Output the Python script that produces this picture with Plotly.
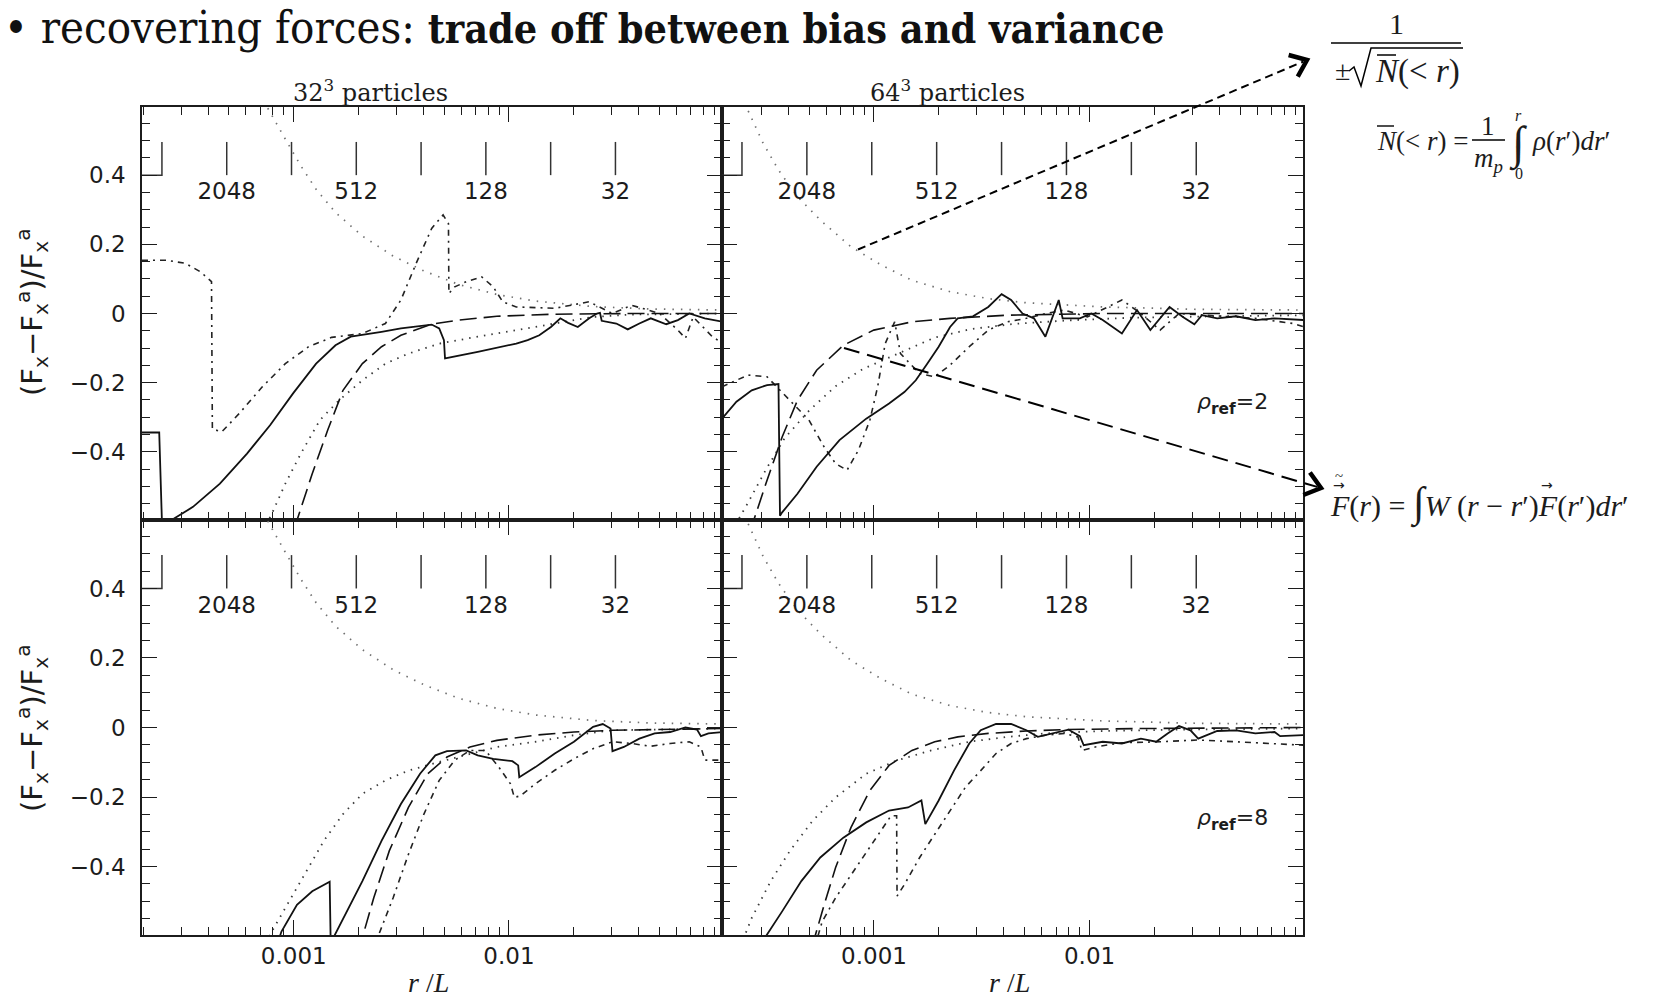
import math
import plotly.graph_objects as go

W, H = 1672, 1000
X_RANGE = [-3.705, -1.01]      # log10(r/L)
Y_RANGE = [-0.597, 0.597]
INK = "#1c1c1c"
SANS = "DejaVu Sans"
SERIF = "Liberation Serif"

# ---------------- curves: log10(r/L) and (Fx - Fx^a)/Fx^a ----------------
# 32^3 particles, rho_ref = 2
tl_solid_logr = [-3.705, -3.625, -3.611, -3.575, -3.468, -3.343, -3.217, -3.110, -3.003, -2.896,
                 -2.806, -2.735, -2.592, -2.502, -2.359, -2.324, -2.302, -2.297, -2.145, -1.966,
                 -1.913, -1.859, -1.805, -1.761, -1.725, -1.680, -1.627, -1.591, -1.577, -1.569,
                 -1.501, -1.448, -1.394, -1.341, -1.269, -1.215, -1.162, -1.135, -1.090, -1.005]
tl_solid_err = [-0.344, -0.344, -0.630, -0.600, -0.559, -0.492, -0.405, -0.323, -0.231, -0.145,
                -0.092, -0.067, -0.053, -0.043, -0.032, -0.043, -0.077, -0.130, -0.111, -0.087,
                -0.077, -0.063, -0.039, -0.014, -0.027, -0.039, -0.014, 0.000, 0.002, -0.021,
                -0.029, -0.046, -0.029, -0.014, -0.031, -0.019, 0.000, -0.005, -0.014, -0.024]
tl_long_logr = [-2.995, -2.986, -2.914, -2.842, -2.771, -2.681, -2.592, -2.502, -2.359, -2.234,
                -2.056, -1.787, -1.430, -1.005]
tl_long_err = [-0.620, -0.600, -0.463, -0.337, -0.222, -0.145, -0.096, -0.063, -0.031, -0.019,
               -0.008, -0.002, 0.000, 0.000]
tl_dashdot_logr = [-3.705, -3.593, -3.503, -3.432, -3.382, -3.378, -3.334, -3.253, -3.146, -3.039,
                   -2.931, -2.824, -2.681, -2.574, -2.502, -2.431, -2.359, -2.306, -2.281, -2.279,
                   -2.252, -2.198, -2.127, -2.073, -2.029, -1.966, -1.787, -1.627, -1.520, -1.430,
                   -1.300, -1.215, -1.180, -1.144, -1.055, -1.005]
tl_dashdot_err = [0.154, 0.154, 0.145, 0.120, 0.092, -0.334, -0.342, -0.289, -0.212, -0.145,
                  -0.096, -0.069, -0.058, -0.029, 0.039, 0.145, 0.246, 0.285, 0.260, 0.058,
                  0.077, 0.092, 0.106, 0.077, 0.034, 0.019, 0.015, 0.034, 0.000, 0.024,
                  0.000, -0.048, -0.072, -0.010, -0.067, -0.087]
tl_dotted_logr = [-3.160, -3.101, -3.039, -2.967, -2.878, -2.788, -2.681, -2.574, -2.467, -2.324,
                  -2.145, -1.966, -1.787, -1.609, -1.430, -1.005]
tl_dotted_err = [-0.650, -0.578, -0.492, -0.405, -0.308, -0.250, -0.193, -0.145, -0.116, -0.087,
                 -0.067, -0.048, -0.029, -0.010, -0.003, 0.000]

# 64^3 particles, rho_ref = 2
tr_solid_logr = [-3.705, -3.638, -3.567, -3.496, -3.443, -3.436, -3.426, -3.355, -3.266, -3.160,
                 -3.036, -2.930, -2.859, -2.806, -2.753, -2.700, -2.647, -2.612, -2.541, -2.470,
                 -2.408, -2.364, -2.311, -2.258, -2.205, -2.143, -2.125, -2.045, -1.992, -1.939,
                 -1.850, -1.780, -1.718, -1.629, -1.567, -1.514, -1.479, -1.408, -1.320, -1.231,
                 -1.142, -1.005]
tr_solid_err = [-0.304, -0.255, -0.222, -0.207, -0.204, -0.585, -0.575, -0.521, -0.443, -0.366,
                -0.304, -0.260, -0.227, -0.193, -0.145, -0.096, -0.039, -0.014, -0.008, 0.019,
                0.056, 0.039, 0.000, -0.014, -0.067, 0.039, -0.014, -0.014, 0.000, -0.019,
                -0.058, 0.010, -0.048, 0.019, -0.010, -0.031, -0.005, -0.014, -0.008, -0.019,
                -0.014, -0.019]
tr_long_logr = [-3.575, -3.558, -3.496, -3.426, -3.355, -3.266, -3.142, -3.001, -2.824, -2.647,
                -2.381, -1.939, -1.005]
tr_long_err = [-0.630, -0.598, -0.482, -0.357, -0.251, -0.164, -0.092, -0.048, -0.024, -0.014,
               -0.005, 0.000, 0.000]
tr_dashdot_logr = [-3.705, -3.585, -3.496, -3.390, -3.302, -3.231, -3.178, -3.125, -3.072, -3.019,
                   -2.983, -2.948, -2.904, -2.877, -2.788, -2.718, -2.647, -2.558, -2.470, -2.381,
                   -2.293, -2.204, -2.116, -2.010, -1.850, -1.762, -1.673, -1.585, -1.408, -1.231,
                   -1.054, -1.005]
tr_dashdot_err = [-0.212, -0.178, -0.183, -0.251, -0.308, -0.386, -0.434, -0.453, -0.395, -0.308,
                  -0.212, -0.087, -0.024, -0.116, -0.174, -0.183, -0.149, -0.096, -0.048, -0.024,
                  -0.014, 0.000, 0.010, -0.010, 0.039, 0.000, -0.048, 0.000, -0.008, -0.014,
                  -0.029, -0.039]
tr_dotted_logr = [-3.660, -3.587, -3.500, -3.414, -3.300, -3.178, -3.050, -2.900, -2.720, -2.550,
                  -2.350, -2.100, -1.800, -1.400, -1.005]
tr_dotted_err = [-0.630, -0.550, -0.450, -0.360, -0.280, -0.210, -0.160, -0.120, -0.070, -0.045,
                 -0.030, -0.020, -0.012, -0.008, -0.005]

# 32^3 particles, rho_ref = 8
bl_solid_logr = [-3.080, -3.057, -2.985, -2.914, -2.833, -2.828, -2.815, -2.753, -2.681, -2.592,
                 -2.502, -2.413, -2.342, -2.288, -2.199, -2.145, -2.073, -1.984, -1.957, -1.952,
                 -1.877, -1.787, -1.698, -1.609, -1.564, -1.528, -1.519, -1.466, -1.394, -1.323,
                 -1.251, -1.180, -1.126, -1.108, -1.073, -1.005]
bl_solid_err = [-0.630, -0.587, -0.510, -0.471, -0.444, -0.630, -0.604, -0.529, -0.442, -0.326,
                -0.220, -0.133, -0.080, -0.068, -0.066, -0.080, -0.090, -0.097, -0.109, -0.143,
                -0.114, -0.075, -0.041, 0.002, 0.010, -0.003, -0.068, -0.056, -0.032, -0.017,
                -0.013, 0.000, -0.006, -0.025, -0.017, -0.013]
bl_long_logr = [-2.700, -2.681, -2.628, -2.556, -2.467, -2.377, -2.288, -2.181, -2.056, -1.877,
                -1.698, -1.519, -1.005]
bl_long_err = [-0.645, -0.604, -0.490, -0.355, -0.230, -0.133, -0.085, -0.056, -0.037, -0.022,
               -0.013, -0.008, -0.003]
bl_dashdot_logr = [-2.630, -2.610, -2.538, -2.467, -2.395, -2.324, -2.252, -2.181, -2.109, -2.047,
                   -1.993, -1.975, -1.948, -1.877, -1.787, -1.698, -1.609, -1.519, -1.430, -1.341,
                   -1.251, -1.162, -1.108, -1.090, -1.005]
bl_dashdot_err = [-0.640, -0.604, -0.490, -0.365, -0.249, -0.152, -0.094, -0.066, -0.066, -0.114,
                  -0.162, -0.201, -0.197, -0.162, -0.123, -0.090, -0.061, -0.041, -0.046, -0.054,
                  -0.046, -0.041, -0.056, -0.094, -0.094]
bl_dotted_logr = [-3.130, -3.110, -3.039, -2.949, -2.860, -2.771, -2.681, -2.574, -2.467, -2.324,
                  -2.181, -2.056, -1.877, -1.698, -1.519, -1.005]
bl_dotted_err = [-0.620, -0.596, -0.519, -0.423, -0.326, -0.249, -0.191, -0.152, -0.124, -0.099,
                 -0.075, -0.056, -0.041, -0.022, -0.008, -0.003]

# 64^3 particles, rho_ref = 8
br_solid_logr = [-3.520, -3.505, -3.426, -3.337, -3.249, -3.142, -3.036, -2.930, -2.842, -2.780,
                 -2.762, -2.700, -2.629, -2.558, -2.505, -2.434, -2.364, -2.293, -2.240, -2.169,
                 -2.098, -2.045, -2.027, -1.939, -1.850, -1.762, -1.691, -1.638, -1.585, -1.532,
                 -1.496, -1.408, -1.320, -1.231, -1.142, -1.116, -1.005]
br_solid_err = [-0.625, -0.604, -0.529, -0.442, -0.374, -0.317, -0.273, -0.239, -0.230, -0.210,
                -0.278, -0.210, -0.124, -0.046, -0.008, 0.010, 0.010, -0.008, -0.027, -0.017,
                -0.006, -0.025, -0.051, -0.041, -0.046, -0.032, -0.041, -0.017, 0.004, -0.008,
                -0.032, -0.010, -0.008, -0.017, -0.013, -0.025, -0.022]
br_long_logr = [-3.290, -3.275, -3.231, -3.178, -3.107, -3.019, -2.930, -2.824, -2.718, -2.611,
                -2.470, -2.293, -2.116, -1.762, -1.005]
br_long_err = [-0.630, -0.604, -0.510, -0.403, -0.288, -0.181, -0.109, -0.066, -0.041, -0.027,
               -0.017, -0.010, -0.006, -0.003, 0.000]
br_dashdot_logr = [-3.260, -3.240, -3.178, -3.089, -3.001, -2.921, -2.895, -2.893, -2.859, -2.788,
                   -2.718, -2.647, -2.576, -2.505, -2.434, -2.364, -2.293, -2.204, -2.116, -2.054,
                   -2.036, -1.974, -1.850, -1.673, -1.496, -1.320, -1.142, -1.005]
br_dashdot_err = [-0.600, -0.558, -0.490, -0.409, -0.326, -0.254, -0.254, -0.485, -0.452, -0.374,
                  -0.307, -0.239, -0.172, -0.124, -0.075, -0.046, -0.032, -0.022, -0.017, -0.027,
                  -0.066, -0.056, -0.044, -0.041, -0.036, -0.041, -0.046, -0.051]
br_dotted_logr = [-3.620, -3.567, -3.479, -3.390, -3.284, -3.178, -3.036, -2.895, -2.735, -2.558,
                  -2.381, -2.204, -1.939, -1.585, -1.005]
br_dotted_err = [-0.630, -0.548, -0.442, -0.355, -0.268, -0.201, -0.133, -0.095, -0.066, -0.041,
                 -0.027, -0.017, -0.010, -0.006, -0.003]

# Poisson envelope 1/sqrt(N(<r)) for each particle number
env32_logr = [-3.140, -3.110, -3.039, -2.967, -2.896, -2.806, -2.681, -2.538, -2.395, -2.234,
              -2.056, -1.877, -1.609, -1.341, -1.005]
env32_err = [0.615, 0.581, 0.504, 0.427, 0.359, 0.292, 0.224, 0.166, 0.123, 0.084,
             0.055, 0.036, 0.020, 0.013, 0.010]
env64_logr = [-3.600, -3.585, -3.514, -3.443, -3.355, -3.249, -3.107, -2.966, -2.824, -2.647,
              -2.470, -2.293, -1.939, -1.496, -1.005]
env64_err = [0.608, 0.588, 0.492, 0.415, 0.338, 0.270, 0.193, 0.140, 0.096, 0.063,
             0.043, 0.031, 0.019, 0.012, 0.010]

# grid-cell scale marks (r/L = 1/N)
mesh_cells = [4096, 2048, 1024, 512, 256, 128, 64, 32]
mesh_labelled = [2048, 512, 128, 32]
mesh_tick_span = [0.400, 0.496]
mesh_label_y = 0.347

panel_titles = ["32<sup>3</sup> particles", "64<sup>3</sup> particles"]
rho_labels = ["2", "8"]

# ---------------- styles ----------------
STYLES = {
    "solid": dict(color="#111111", width=1.8, dash="solid"),
    "long": dict(color="#111111", width=1.6, dash="17px,7px"),
    "dashdot": dict(color="#222222", width=1.6, dash="6px,5px,2px,5px"),
    "dotted": dict(color="#3a3a3a", width=1.8, dash="1.5px,6px"),
    "env": dict(color="#707070", width=1.7, dash="1.5px,7px"),
}

panels = [
    ("x", "y", env32_logr, env32_err, [
        (tl_dotted_logr, tl_dotted_err, "dotted"), (tl_dashdot_logr, tl_dashdot_err, "dashdot"),
        (tl_long_logr, tl_long_err, "long"), (tl_solid_logr, tl_solid_err, "solid")]),
    ("x2", "y2", env64_logr, env64_err, [
        (tr_dotted_logr, tr_dotted_err, "dotted"), (tr_dashdot_logr, tr_dashdot_err, "dashdot"),
        (tr_long_logr, tr_long_err, "long"), (tr_solid_logr, tr_solid_err, "solid")]),
    ("x3", "y3", env32_logr, env32_err, [
        (bl_dotted_logr, bl_dotted_err, "dotted"), (bl_dashdot_logr, bl_dashdot_err, "dashdot"),
        (bl_long_logr, bl_long_err, "long"), (bl_solid_logr, bl_solid_err, "solid")]),
    ("x4", "y4", env64_logr, env64_err, [
        (br_dotted_logr, br_dotted_err, "dotted"), (br_dashdot_logr, br_dashdot_err, "dashdot"),
        (br_long_logr, br_long_err, "long"), (br_solid_logr, br_solid_err, "solid")]),
]

TICK_FONT = dict(family=SANS, size=23, color=INK)


def to_r(logr):
    return [10.0 ** v for v in logr]


fig = go.Figure()
x_left = 10.0 ** X_RANGE[0]
for xa, ya, env_logr, env_err, series in panels:
    fig.add_trace(go.Scatter(x=to_r(env_logr), y=env_err, mode="lines", line=STYLES["env"],
                             xaxis=xa, yaxis=ya, hoverinfo="skip", showlegend=False))
    for logr, err, kind in series:
        fig.add_trace(go.Scatter(x=to_r(logr), y=err, mode="lines", line=STYLES[kind],
                                 xaxis=xa, yaxis=ya, hoverinfo="skip", showlegend=False))
    # grid-cell marks: vertical strokes, with a foot on the first one
    mx, my = [], []
    for n in mesh_cells[1:]:
        mx += [1.0 / n, 1.0 / n, None]
        my += [mesh_tick_span[0], mesh_tick_span[1], None]
    mx += [x_left, 1.0 / mesh_cells[0], 1.0 / mesh_cells[0]]
    my += [mesh_tick_span[0], mesh_tick_span[0], mesh_tick_span[1]]
    fig.add_trace(go.Scatter(x=mx, y=my, mode="lines", line=dict(color="#333333", width=1.5),
                             xaxis=xa, yaxis=ya, hoverinfo="skip", showlegend=False))
    fig.add_trace(go.Scatter(x=[1.0 / n for n in mesh_labelled], y=[mesh_label_y] * len(mesh_labelled),
                             mode="text", text=[str(n) for n in mesh_labelled],
                             textfont=TICK_FONT, textposition="middle center",
                             xaxis=xa, yaxis=ya, hoverinfo="skip", showlegend=False))

# ---------------- axes ----------------
MINOR_X = [m * 10.0 ** e for e in (-4, -3, -2) for m in range(2, 10)]
xL = [142 / W, 722 / W]
xR = [722 / W, 1303 / W]
yT = [1 - 520 / H, 1 - 107 / H]
yB = [1 - 935 / H, 1 - 520 / H]


def xaxis_cfg(domain, anchor, labels):
    return dict(domain=domain, anchor=anchor, type="log", range=X_RANGE,
                showline=True, linecolor=INK, linewidth=1.6, mirror="allticks",
                ticks="inside", ticklen=15, tickwidth=1.4, tickcolor=INK,
                tickvals=[1e-3, 1e-2], ticktext=["0.001", "0.01"],
                showticklabels=labels, ticklabelstandoff=0,
                tickfont=TICK_FONT,
                minor=dict(tickvals=MINOR_X, ticks="inside", ticklen=8, tickwidth=1.4,
                           tickcolor=INK, showgrid=False),
                showgrid=False, zeroline=False, fixedrange=True)


def yaxis_cfg(domain, anchor, labels):
    return dict(domain=domain, anchor=anchor, range=Y_RANGE,
                showline=True, linecolor=INK, linewidth=1.6, mirror="allticks",
                ticks="inside", ticklen=15, tickwidth=1.4, tickcolor=INK,
                tickvals=[-0.4, -0.2, 0, 0.2, 0.4],
                ticktext=["\u22120.4", "\u22120.2", "0", "0.2", "0.4"],
                showticklabels=labels, ticklabelstandoff=10,
                tickfont=TICK_FONT,
                minor=dict(dtick=0.05, tick0=0, ticks="inside", ticklen=8, tickwidth=1.4,
                           tickcolor=INK, showgrid=False),
                showgrid=False, zeroline=False, fixedrange=True)


fig.update_layout(
    width=W, height=H, margin=dict(l=0, r=0, t=0, b=0),
    paper_bgcolor="white", plot_bgcolor="white", showlegend=False,
    xaxis=xaxis_cfg(xL, "y", False), yaxis=yaxis_cfg(yT, "x", True),
    xaxis2=xaxis_cfg(xR, "y2", False), yaxis2=yaxis_cfg(yT, "x2", False),
    xaxis3=xaxis_cfg(xL, "y3", True), yaxis3=yaxis_cfg(yB, "x3", True),
    xaxis4=xaxis_cfg(xR, "y4", True), yaxis4=yaxis_cfg(yB, "x4", False),
)

# ---------------- text and annotation helpers (pixel positions on the page) ----------------
annotations = []
shapes = []


def P(x, y):
    return x / W, 1 - y / H


def note(x, y, text, size, family=SANS, xanchor="center", angle=0, color=INK):
    px, py = P(x, y)
    annotations.append(dict(x=px, y=py, xref="paper", yref="paper", text=text, showarrow=False,
                            xanchor=xanchor, yanchor="middle", textangle=angle,
                            font=dict(family=family, size=size, color=color)))


def seg(x0, y0, x1, y1, width=1.5, dash="solid"):
    a, b = P(x0, y0)
    c, d = P(x1, y1)
    shapes.append(dict(type="line", xref="paper", yref="paper", x0=a, y0=b, x1=c, y1=d,
                       line=dict(color="black", width=width, dash=dash)))


def poly(points, width=1.5):
    path = ""
    for i, (x, y) in enumerate(points):
        a, b = P(x, y)
        path += ("M" if i == 0 else "L") + f"{a:.5f},{b:.5f} "
    shapes.append(dict(type="path", xref="paper", yref="paper", path=path.strip(),
                       line=dict(color="black", width=width)))


def arrow(tail, tip, dash, arm=19, half=38):
    ux, uy = tip[0] - tail[0], tip[1] - tail[1]
    n = math.hypot(ux, uy)
    ux, uy = ux / n, uy / n
    seg(tail[0], tail[1], tip[0] - 4 * ux, tip[1] - 4 * uy, width=2, dash=dash)
    arms = []
    for s in (1, -1):
        a = math.radians(half * s)
        bx, by = -ux, -uy
        rx = bx * math.cos(a) - by * math.sin(a)
        ry = bx * math.sin(a) + by * math.cos(a)
        arms.append((tip[0] + arm * rx, tip[1] + arm * ry))
    poly([arms[0], tip, arms[1]], width=4.5)


# headline
note(2, 27, "\u2022 recovering forces: <span style='font-size:41px'><b>trade off between bias and variance</b></span>",
     45, family="DejaVu Serif Condensed, DejaVu Serif", xanchor="left", color="#111111")

# panel headers, axis titles, density labels
note(370, 91, panel_titles[0], 24, family="DejaVu Serif")
note(947, 91, panel_titles[1], 24, family="DejaVu Serif")
ytitle = "(F<sub>x</sub>\u2212F<sub>x</sub><sup>a</sup>)/F<sub>x</sub><sup>a</sup>"
note(32, 312, ytitle, 29, angle=-90)
note(32, 728, ytitle, 29, angle=-90)
note(428, 982, "<i>r</i> /<i>L</i>", 28, family=SERIF)
note(1010, 982, "<i>r</i> /<i>L</i>", 28, family=SERIF)
note(1232, 403, "<i>\u03c1</i><sub><b>ref</b></sub>=" + rho_labels[0], 22)
note(1232, 819, "<i>\u03c1</i><sub><b>ref</b></sub>=" + rho_labels[1], 22)

# call-out arrows
arrow((858, 249.5), (1307, 60), "8px,5px")
arrow((844, 348), (1321, 488), "16px,8px")

# 1 / +-sqrt(N(<r))
note(1396, 23, "1", 30, family=SERIF)
seg(1331, 43, 1461, 43, width=1.6)
note(1342, 71, "\u00b1", 28, family=SERIF)
poly([(1349, 71), (1354, 67), (1361, 86), (1371, 48), (1463, 48)], width=1.5)
note(1373, 72, "<i>N</i>(&lt; <i>r</i>)", 33, family=SERIF, xanchor="left")
seg(1377, 55, 1396, 55, width=1.5)

# N(<r) = 1/m_p int_0^r rho(r') dr'
note(1375, 141, "<i>N</i>(&lt; <i>r</i>) =", 27, family=SERIF, xanchor="left")
seg(1377, 126, 1394, 126, width=1.4)
note(1488, 126, "1", 27, family=SERIF)
seg(1472, 140, 1505, 140, width=1.4)
note(1488, 160, "<i>m</i><sub><i>p</i></sub>", 27, family=SERIF)
note(1518, 144, "\u222b", 46, family=SERIF)
note(1518, 116, "<i>r</i>", 16, family=SERIF)
note(1519, 173, "0", 16, family=SERIF)
note(1530, 141, "<i>\u03c1</i>(<i>r</i>\u2032)<i>dr</i>\u2032", 27, family=SERIF, xanchor="left")

# smoothed force
note(1328, 503, "<i>F</i>(<i>r</i>) = <span style='font-size:42px'>\u222b</span><i>W</i> (<i>r</i> \u2212 <i>r</i>\u2032)"
     "<i>F</i>(<i>r</i>\u2032)<i>dr</i>\u2032", 30, family=SERIF, xanchor="left")
note(1339, 485, "\u2192", 14, family=SANS)
note(1339, 476, "~", 15, family=SERIF)
note(1547, 485, "\u2192", 14, family=SANS)

fig.update_layout(annotations=annotations, shapes=shapes)
fig.write_html("out.html")
